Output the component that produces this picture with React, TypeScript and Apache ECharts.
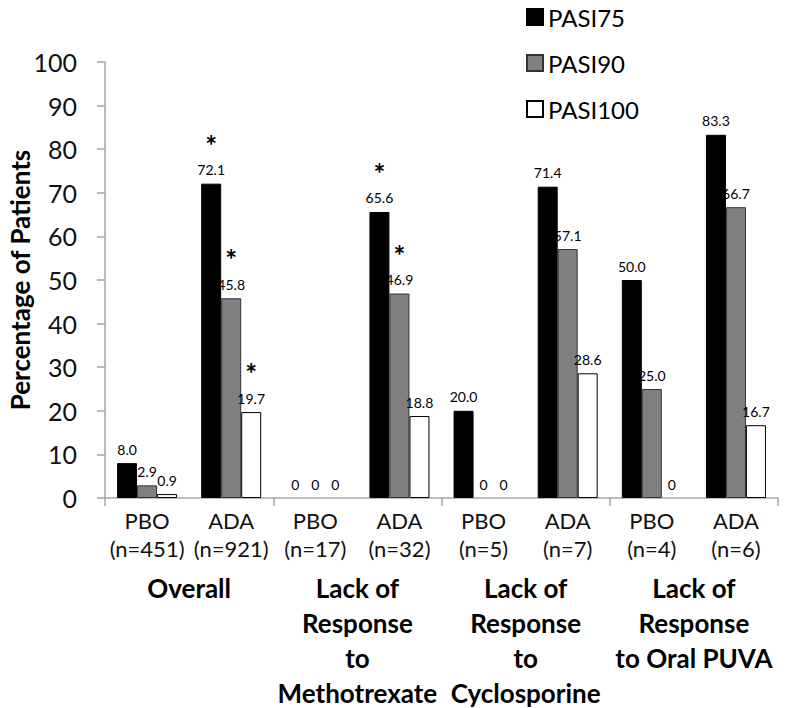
import React, { useEffect, useRef } from "react";
import * as echarts from "echarts";

const categories = [
  "PBO\n(n=451)", "ADA\n(n=921)",
  "PBO\n(n=17)", "ADA\n(n=32)",
  "PBO\n(n=5)", "ADA\n(n=7)",
  "PBO\n(n=4)", "ADA\n(n=6)",
];
const groups = [
  "Overall",
  "Lack of\nResponse\nto\nMethotrexate",
  "Lack of\nResponse\nto\nCyclosporine",
  "Lack of\nResponse\nto Oral PUVA",
];
const pasi75 = [8.0, 72.1, 0, 65.6, 20.0, 71.4, 50.0, 83.3];
const pasi90 = [2.9, 45.8, 0, 46.9, 0, 57.1, 25.0, 66.7];
const pasi100 = [0.9, 19.7, 0, 18.8, 0, 28.6, 0, 16.7];
const sig75 = [false, true, false, true, false, false, false, false];
const sig90 = [false, true, false, true, false, false, false, false];
const sig100 = [false, true, false, false, false, false, false, false];
const yTicks = { min: 0, max: 100, interval: 10 };

const FONT = "Lato, 'Open Sans', sans-serif";

function makeSeries(name: string, data: number[], sig: boolean[], fill: string, border: string) {
  return {
    name,
    type: "bar",
    data: data.map((v) => (v === 0 ? { value: v, itemStyle: { borderWidth: 0 } } : v)),
    barWidth: 20,
    barGap: "0%",
    itemStyle: { color: fill, borderColor: border, borderWidth: 1 },
    label: {
      show: true,
      position: "top",
      distance: 4,
      fontFamily: FONT,
      formatter: (p: any) => {
        const v = p.value === 0 ? "0" : Number(p.value).toFixed(1);
        return sig[p.dataIndex] ? `{s|*}\n{v|${v}}` : `{v|${v}}`;
      },
      rich: {
        s: { fontSize: 28, fontWeight: "bold", lineHeight: 30, color: "#000", fontFamily: FONT },
        v: { fontSize: 14, lineHeight: 20, color: "#000", fontFamily: FONT },
      },
    },
  };
}

export default function App() {
  const ref = useRef<HTMLDivElement>(null);
  useEffect(() => {
    if (!ref.current) return;
    const chart = echarts.init(ref.current, null, { renderer: "svg" });
    chart.setOption({
      animation: false,
      backgroundColor: "#fff",
      textStyle: { fontFamily: FONT },
      legend: {
        orient: "vertical",
        left: 521,
        top: 0,
        itemWidth: 16,
        itemHeight: 16,
        itemGap: 22,
        icon: "rect",
        textStyle: { fontSize: 24, color: "#000", fontFamily: FONT },
        data: ["PASI75", "PASI90", "PASI100"],
      },
      grid: { left: 105, right: 8, top: 62, bottom: 210, containLabel: false, outerBoundsMode: "none" },
      xAxis: [
        {
          type: "category",
          data: categories,
          axisLine: { show: true, lineStyle: { color: "#a6a6a6", width: 1.5 } },
          axisTick: { show: false },
          axisLabel: { fontSize: 22, lineHeight: 28, margin: 8, color: "#111", fontFamily: FONT, interval: 0 },
        },
        {
          type: "category",
          data: groups,
          position: "bottom",
          axisLine: { show: false },
          axisTick: { show: true, length: 8, lineStyle: { color: "#a6a6a6", width: 1.5 } },
          axisLabel: {
            fontSize: 26, fontWeight: "bold", lineHeight: 35, margin: 72, color: "#000",
            fontFamily: FONT, interval: 0,
          },
        },
      ],
      yAxis: {
        type: "value",
        min: yTicks.min,
        max: yTicks.max,
        interval: yTicks.interval,
        name: "Percentage of Patients",
        nameLocation: "middle",
        nameGap: 72,
        nameMoveOverlap: false,
        nameTextStyle: { fontSize: 26, fontWeight: "bold", color: "#000", fontFamily: FONT },
        axisLine: { show: true, lineStyle: { color: "#a6a6a6", width: 1.5 } },
        axisTick: { show: true, length: 8, lineStyle: { color: "#a6a6a6", width: 1.5 } },
        splitLine: { show: false },
        axisLabel: { fontSize: 25, margin: 28, color: "#111", fontFamily: FONT },
      },
      series: [
        makeSeries("PASI75", pasi75, sig75, "#000000", "#000000"),
        makeSeries("PASI90", pasi90, sig90, "#808080", "#333333"),
        makeSeries("PASI100", pasi100, sig100, "#ffffff", "#000000"),
      ],
    });
    return () => chart.dispose();
  }, []);
  return (
    <div
      ref={ref}
      style={{ position: "fixed", left: 0, top: 0, width: 786, height: 708, background: "#fff" }}
    />
  );
}
